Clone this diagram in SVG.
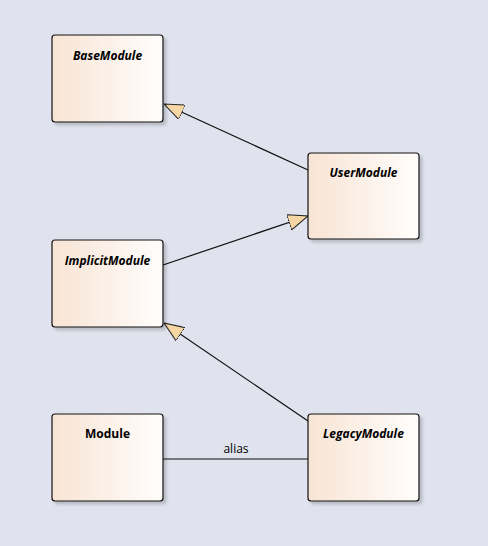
<svg xmlns="http://www.w3.org/2000/svg" width="488" height="546" viewBox="0 0 488 546">
<defs>
<linearGradient id="g" x1="0" y1="0" x2="1" y2="0">
<stop offset="0" stop-color="#f8e4d4"/>
<stop offset="1" stop-color="#fffdfc"/>
</linearGradient>
<marker id="tri" viewBox="0 0 20 16" refX="20" refY="8" markerWidth="20" markerHeight="16" markerUnits="userSpaceOnUse" orient="auto">
<path d="M0,0 L20,8 L0,16 Z" fill="#f5d6a4" stroke="#222" stroke-width="1"/>
</marker>
<filter id="sh" x="-10%" y="-10%" width="130%" height="130%">
<feGaussianBlur in="SourceAlpha" stdDeviation="1.5"/>
<feOffset dx="3" dy="3"/>
<feComponentTransfer><feFuncA type="linear" slope="0.18"/></feComponentTransfer>
<feMerge><feMergeNode/><feMergeNode in="SourceGraphic"/></feMerge>
</filter>
</defs>
<style>
.box{fill:url(#g);stroke:#111;stroke-width:1.2;filter:url(#sh)}
.t{font-family:"Open Sans","Liberation Sans",sans-serif;font-size:12px;font-weight:bold;font-style:italic;text-anchor:middle;fill:#000}
.n{font-style:normal}
.c{stroke:#111;stroke-width:1.2;fill:none}
.lbl{font-family:"Open Sans","Liberation Sans",sans-serif;font-size:12px;text-anchor:middle;fill:#000}
</style>
<rect width="488" height="546" fill="#e0e3ed"/>
<g id="connectors">
<line class="c" x1="308" y1="170" x2="164" y2="104" marker-end="url(#tri)"/>
<line class="c" x1="163" y1="265" x2="308" y2="216" marker-end="url(#tri)"/>
<line class="c" x1="308" y1="421" x2="164" y2="323" marker-end="url(#tri)"/>
<line class="c" x1="163" y1="459" x2="308" y2="459"/>
<text class="lbl" x="236" y="453">alias</text>
</g>
<g id="BaseModule">
<rect class="box" x="52" y="35" width="111" height="87" rx="3"/>
<text class="t" x="107.5" y="60">BaseModule</text>
</g>
<g id="UserModule">
<rect class="box" x="308" y="153" width="111" height="86" rx="3"/>
<text class="t" x="363.5" y="177">UserModule</text>
</g>
<g id="ImplicitModule">
<rect class="box" x="52" y="240" width="111" height="87" rx="3"/>
<text class="t" x="107.5" y="265">ImplicitModule</text>
</g>
<g id="Module">
<rect class="box" x="52" y="414" width="111" height="87" rx="3"/>
<text class="t n" x="107.5" y="438">Module</text>
</g>
<g id="LegacyModule">
<rect class="box" x="308" y="414" width="111" height="87" rx="3"/>
<text class="t" x="363.5" y="438">LegacyModule</text>
</g>
</svg>
